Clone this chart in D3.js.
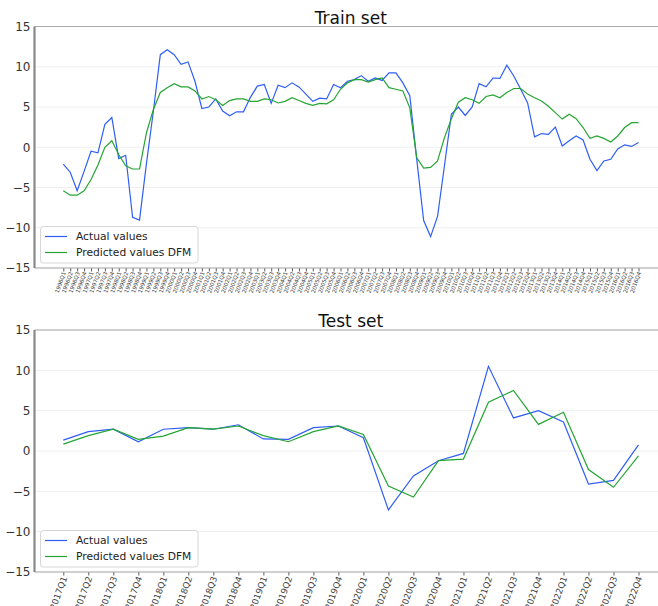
<!DOCTYPE html>
<html>
<head>
<meta charset="utf-8">
<script src="https://cdn.jsdelivr.net/npm/d3@7"></script>
<style>
    body { margin: 0; background: #fff; }
    svg { display: block; font-family: 'DejaVu Sans', sans-serif; }
</style>
</head>
<body>
<div id="chart"></div>
<script>
// train period quarters, 1996Q1 .. 2016Q4
var train_quarters = [];
for (var yr = 1996; yr <= 2016; yr++) {
    for (var q = 1; q <= 4; q++) {
        train_quarters.push(yr + 'Q' + q);
    }
}

var train_actual = [
    -2.1, -3.1, -5.4, -3.0, -0.5, -0.7, 2.85, 3.7, -1.4, -1.0,
    -8.7, -9.05, -2.0, 4.5, 11.5, 12.1, 11.5, 10.3, 10.6, 8.2,
    4.8, 5.0, 6.0, 4.5, 3.9, 4.4, 4.4, 6.2, 7.6, 7.8,
    5.45, 7.7, 7.4, 8.0, 7.5, 6.6, 5.7, 6.1, 6.0, 7.8,
    7.4, 8.2, 8.4, 8.9, 8.2, 8.6, 8.3, 9.25, 9.25, 8.0,
    6.4, -1.5, -9.1, -11.1, -8.6, -2.3, 4.1, 5.0, 3.95, 5.0,
    7.9, 7.5, 8.6, 8.55, 10.2, 8.85, 7.2, 5.5, 1.3, 1.7,
    1.6, 2.5, 0.15, 0.8, 1.4, 0.9, -1.5, -2.9, -1.7, -1.5,
    -0.2, 0.3, 0.1, 0.6
];

var train_predicted = [
    -5.4, -5.95, -5.95, -5.4, -4.0, -2.2, 0.0, 0.8, -0.9, -2.3,
    -2.7, -2.7, 1.8, 4.7, 6.8, 7.4, 7.9, 7.5, 7.5, 7.0,
    6.0, 6.3, 5.9, 5.2, 5.8, 6.0, 6.0, 5.7, 5.7, 6.0,
    5.9, 5.5, 5.7, 6.15, 5.8, 5.45, 5.2, 5.45, 5.4, 5.9,
    7.2, 8.0, 8.4, 8.4, 8.1, 8.4, 8.6, 7.4, 7.2, 7.0,
    4.9, -1.3, -2.6, -2.5, -1.7, 1.2, 3.55, 5.6, 6.15, 5.9,
    5.45, 6.3, 6.5, 6.15, 6.8, 7.3, 7.3, 6.6, 6.15, 5.75,
    5.1, 4.3, 3.5, 4.1, 3.55, 2.45, 1.1, 1.4, 1.1, 0.65,
    1.4, 2.45, 3.05, 3.05
];

var test_quarters = [
    '2017Q1', '2017Q2', '2017Q3', '2017Q4', '2018Q1', '2018Q2', '2018Q3', '2018Q4',
    '2019Q1', '2019Q2', '2019Q3', '2019Q4', '2020Q1', '2020Q2', '2020Q3', '2020Q4',
    '2021Q1', '2021Q2', '2021Q3', '2021Q4', '2022Q1', '2022Q2', '2022Q3', '2022Q4'
];

var test_actual = [
    1.35, 2.4, 2.7, 1.15, 2.7, 2.9, 2.7, 3.25, 1.5, 1.45, 2.9, 3.1,
    1.65, -7.3, -3.1, -1.2, -0.3, 10.5, 4.1, 5.0, 3.6, -4.1, -3.65, 0.75
];

var test_predicted = [
    0.85, 1.9, 2.7, 1.45, 1.85, 2.9, 2.7, 3.1, 1.9, 1.15, 2.4, 3.1,
    2.05, -4.35, -5.7, -1.2, -1.0, 6.05, 7.5, 3.3, 4.8, -2.3, -4.5, -0.6
];

var y_ticks = [-15, -10, -5, 0, 5, 10, 15];

var blue = '#2f5ef6';
var green = '#24a532';

var svg = d3.select('#chart')
    .append('svg')
    .attr('width', 658)
    .attr('height', 606);

function panel(title, quarters, actual, predicted, top, bottom, tick_font) {
    var left = 34.5;
    var right = 667;

    var x = d3.scalePoint().domain(quarters).range([63.3, 638.5]);
    var y = d3.scaleLinear().domain([-15, 15]).range([bottom, top]);

    var g = svg.append('g');

    // light horizontal grid
    g.selectAll('.grid')
        .data(y_ticks)
        .enter()
        .append('line')
        .attr('x1', left)
        .attr('x2', right)
        .attr('y1', function(d) { return y(d); })
        .attr('y2', function(d) { return y(d); })
        .attr('stroke', '#efefef')
        .attr('stroke-width', 1);

    // y axis
    var ya = g.append('g')
        .attr('transform', 'translate(' + left + ',0)')
        .call(d3.axisLeft(y).tickValues(y_ticks).tickSize(0).tickPadding(4)
            .tickFormat(function(d) { return d < 0 ? '\u2212' + Math.abs(d) : d; }));
    ya.select('.domain').remove();
    ya.selectAll('text')
        .attr('font-size', '12px')
        .attr('font-family', "'DejaVu Sans', sans-serif")
        .attr('fill', '#333');

    // x axis, labels rotated steeply
    var xa = g.append('g')
        .attr('transform', 'translate(0,' + bottom + ')')
        .call(d3.axisBottom(x).tickSize(3.5).tickPadding(0));
    xa.select('.domain').remove();
    xa.selectAll('line').attr('stroke', '#333').attr('stroke-width', 0.8);
    xa.selectAll('text')
        .attr('font-size', tick_font + 'px')
        .attr('font-family', "'DejaVu Sans', sans-serif")
        .attr('fill', '#444')
        .attr('text-anchor', 'end')
        .attr('dy', null)
        .attr('y', 0)
        .attr('transform', function() {
            return 'translate(' + (tick_font * 0.4) + ',' + (tick_font * 0.3 + 3) + ') rotate(-70)';
        });

    // spines
    g.append('line')
        .attr('x1', left).attr('x2', right)
        .attr('y1', top).attr('y2', top)
        .attr('stroke', '#aaa').attr('stroke-width', 1.2);
    g.append('line')
        .attr('x1', left).attr('x2', right)
        .attr('y1', bottom).attr('y2', bottom)
        .attr('stroke', '#aaa').attr('stroke-width', 1.2);
    g.append('line')
        .attr('x1', left).attr('x2', left)
        .attr('y1', top).attr('y2', bottom)
        .attr('stroke', '#888').attr('stroke-width', 2.2);

    // lines
    var line = d3.line()
        .x(function(d, i) { return x(quarters[i]); })
        .y(function(d) { return y(d); });

    g.append('path')
        .datum(actual)
        .attr('d', line)
        .attr('fill', 'none')
        .attr('stroke', blue)
        .attr('stroke-width', 1.2);

    g.append('path')
        .datum(predicted)
        .attr('d', line)
        .attr('fill', 'none')
        .attr('stroke', green)
        .attr('stroke-width', 1.2);

    // title
    g.append('text')
        .attr('x', (left + right) / 2)
        .attr('y', top - 3)
        .attr('text-anchor', 'middle')
        .attr('font-size', '17px')
        .attr('fill', '#111')
        .text(title);

    // legend
    var lg = g.append('g').attr('transform', 'translate(40.5,' + (bottom - 41.5) + ')');
    lg.append('rect')
        .attr('width', 157.5)
        .attr('height', 36.5)
        .attr('rx', 3)
        .attr('fill', 'rgba(255,255,255,0.85)')
        .attr('stroke', '#d6d6d6')
        .attr('stroke-width', 1);
    var items = [['Actual values', blue], ['Predicted values DFM', green]];
    items.forEach(function(it, i) {
        var cy = 10 + i * 16;
        lg.append('line')
            .attr('x1', 4.5).attr('x2', 26.5)
            .attr('y1', cy).attr('y2', cy)
            .attr('stroke', it[1]).attr('stroke-width', 1.2);
        lg.append('text')
            .attr('x', 35.5)
            .attr('y', cy + 3.9)
            .attr('font-size', '10.7px')
            .attr('fill', '#222')
            .text(it[0]);
    });
}

panel('Train set', train_quarters, train_actual, train_predicted, 26.5, 268, 5.6);
panel('Test set', test_quarters, test_actual, test_predicted, 330, 572, 8.8);
</script>
</body>
</html>
